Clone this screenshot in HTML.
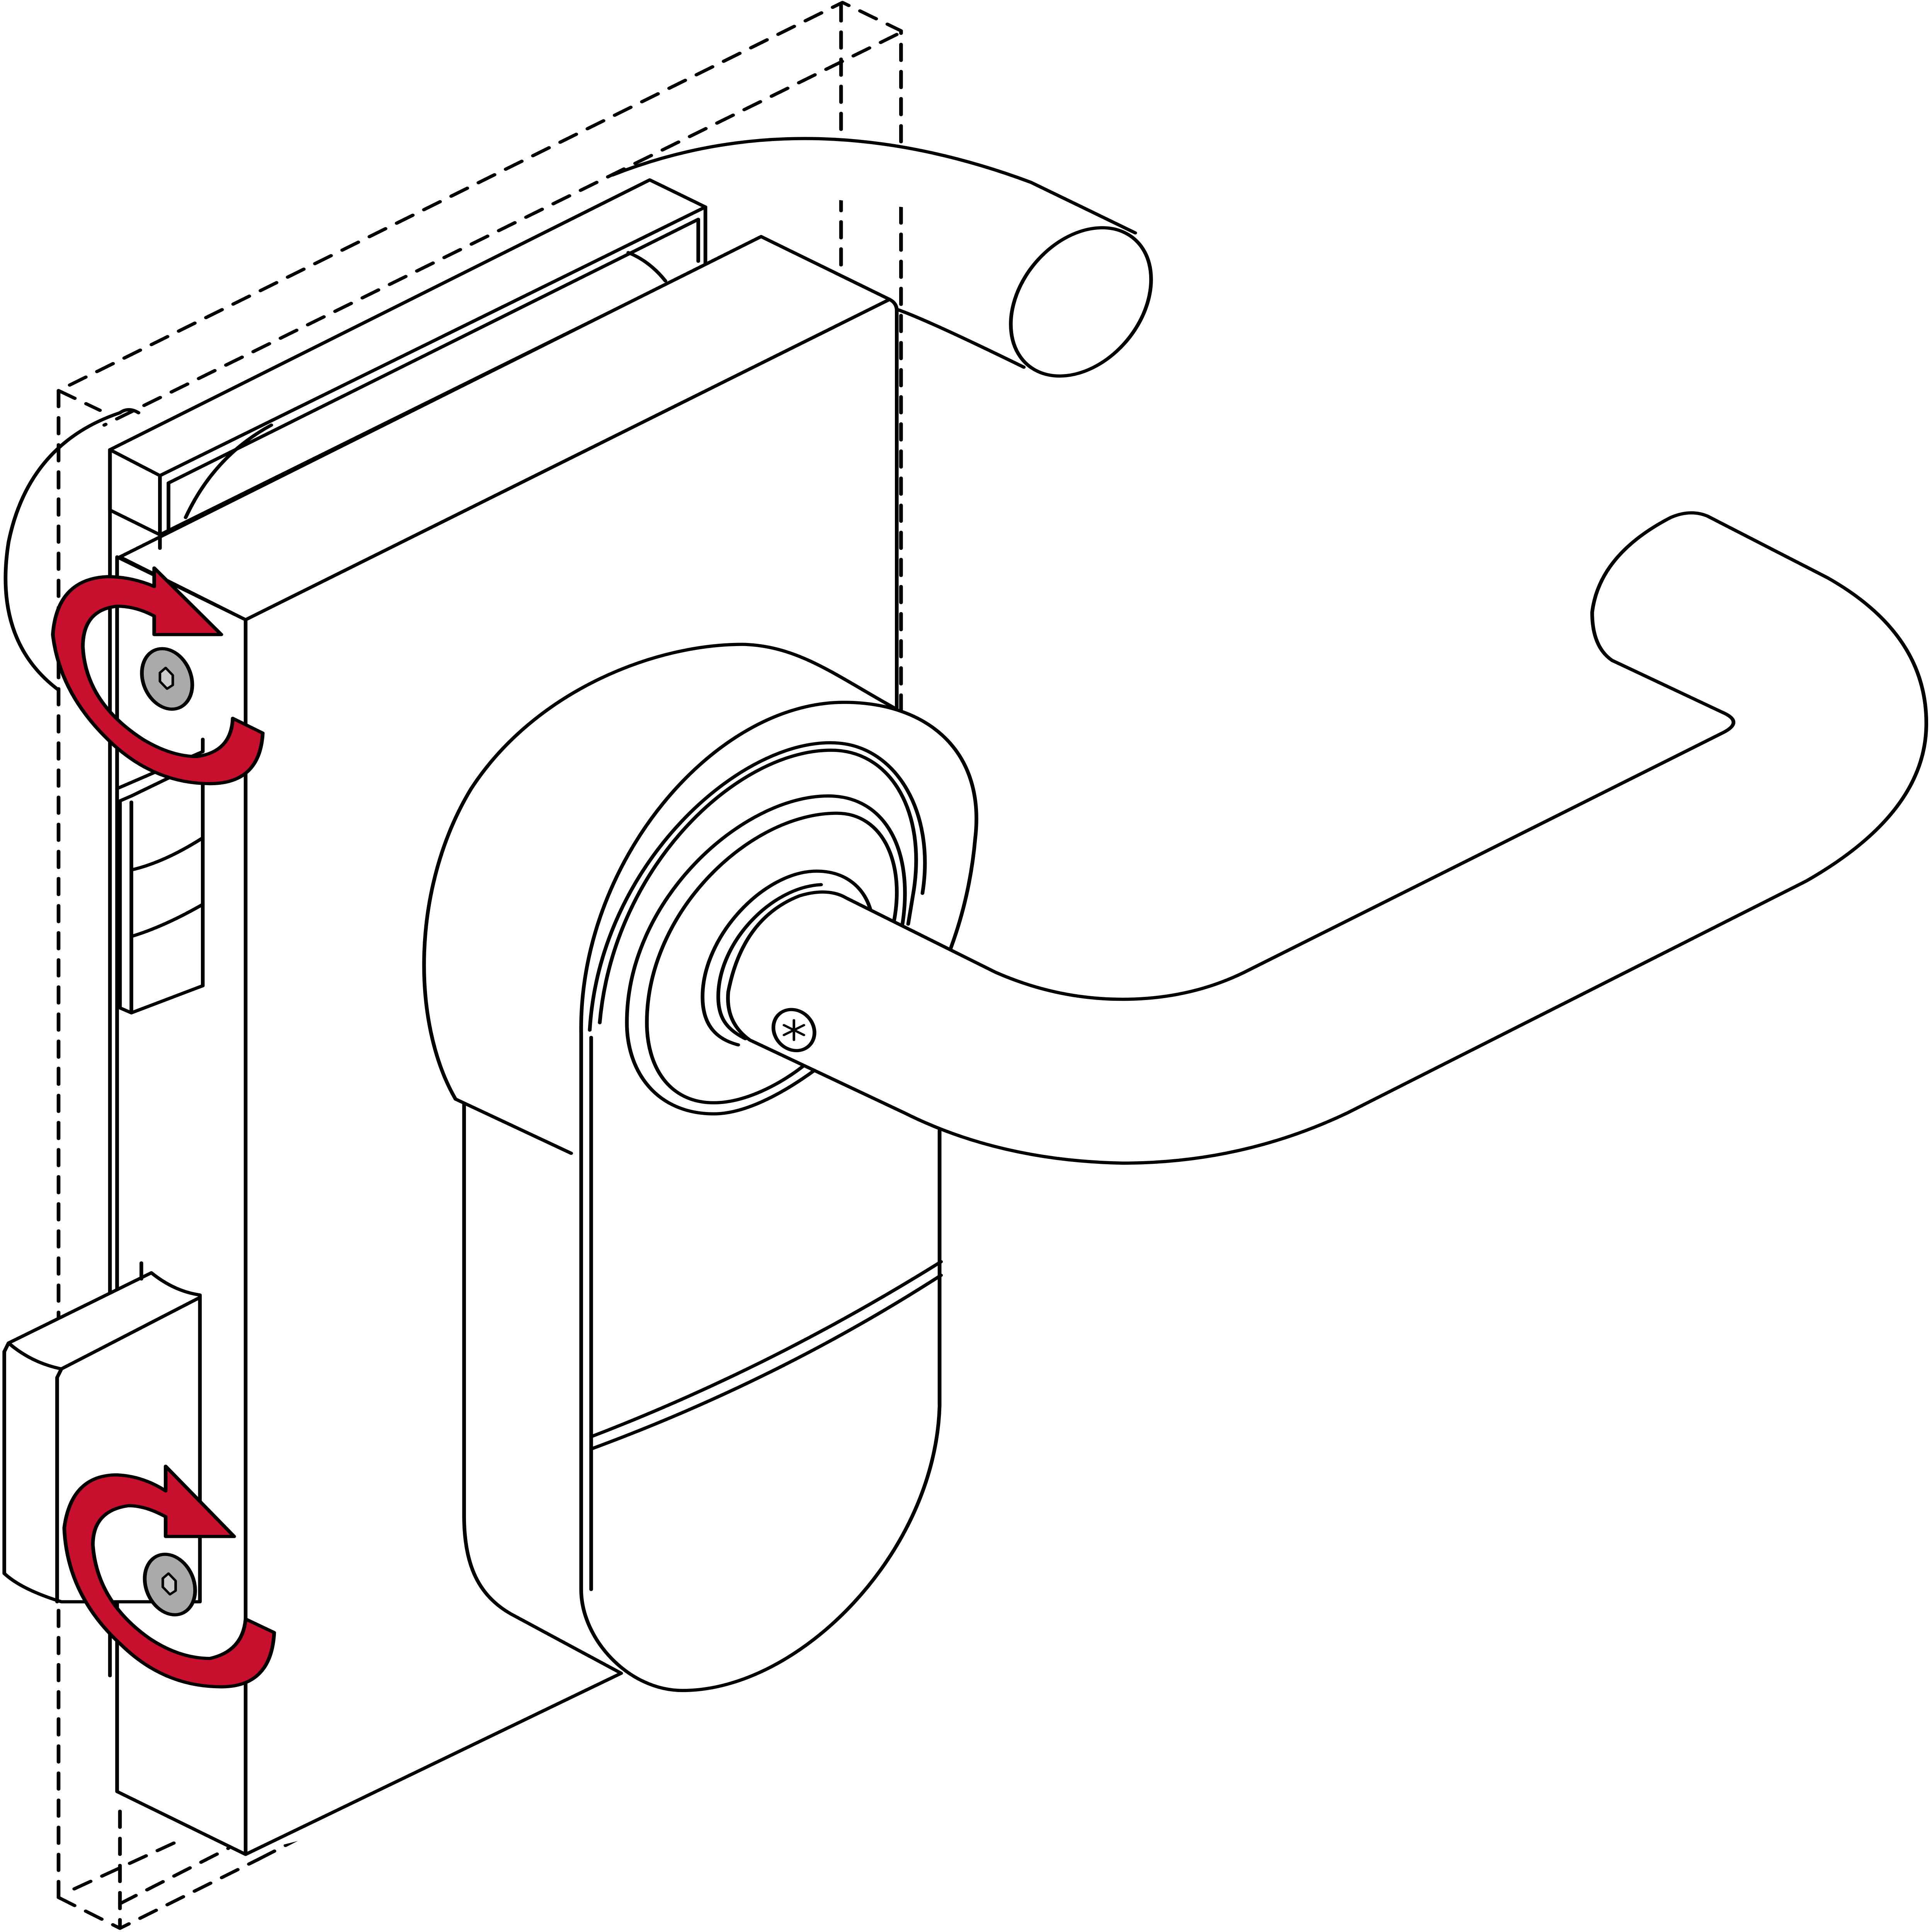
<!DOCTYPE html>
<html><head><meta charset="utf-8">
<style>
html,body{margin:0;padding:0;background:#fff;overflow:hidden;width:100%;height:100%;}
svg{display:block;width:100vw;height:100vh;}
</style></head>
<body>
<svg viewBox="0 0 1353 1568" preserveAspectRatio="none" xmlns="http://www.w3.org/2000/svg" fill="none" stroke="#000" stroke-width="2.6" stroke-linejoin="round" stroke-linecap="round">
<rect x="0" y="0" width="1353" height="1568" fill="#fff" stroke="none"/>
<!-- dashed glass -->
<g stroke-dasharray="13,9">
<path d="M41,1540 L41,317 L590,2 L631,25 L631,580"/>
<path d="M41,317 L70,333"/>
<path d="M628,28 L73,345"/>
<path d="M589,4 L589,222"/>
<path d="M84,1470 L84,1565"/>
<path d="M41,1540 L84,1565 L181,1509"/>
<path d="M52,1533 L127,1493"/>
<path d="M84,1545 L160,1500"/>
<path d="M181,1509 L435,1358"/>
</g>
<!-- back handle -->
<path d="M429,142 Q565,80 722,148 L795,189" fill="#fff"/>
<path d="M628,251 Q650,260 717,298"/>
<ellipse cx="757" cy="245" rx="44" ry="64" transform="rotate(28 757 245)" fill="#fff"/>
<!-- left strap arc -->
<path d="M84,335 Q20,360 6,440 Q-5,520 41,560"/>
<!-- top clamp -->
<path d="M77,365 L455,146 L494,168 L494,215 L112,434 L77,414 Z" fill="#fff"/>
<path d="M77,365 L112,386 L494,168 M112,386 L112,434"/>
<path d="M118,392 L489,178 L489,212"/>
<path d="M118,392 L118,430"/>
<path d="M130,420 Q150,370 190,345"/>
<path d="M440,205 Q455,212 466,228"/>
<path d="M84,335 Q90,330 97,335"/>
<!-- main box -->
<path d="M84,452 L533,192 L623,243 L172,503 Z" fill="#fff"/>
<path d="M172,503 L623,243 L628,575 L658,700 L658,1360 L172,1505 Z" fill="#fff" stroke="none"/>
<path d="M172,503 L623,243 Q628,246 628,252 L628,575"/>
<path d="M82,452 L172,503 L172,1505 L82,1454 Z" fill="#fff"/>
<path d="M77,365 L77,1360 M112,434 L112,445"/>
<path d="M172,1505 L435,1358"/>
<!-- left-side strips -->
<path d="M84,650 L92,646 L142,618 L142,800 L92,822 L84,818 Z" fill="#fff"/>
<path d="M92,651 L92,822 M92,706 Q115,700 142,680 M92,760 Q115,752 142,734"/>
<path d="M82,640 L142,610 L142,600"/>
<!-- bottom-left block -->
<path d="M6,1090 L106,1033 Q122,1048 140,1051 L140,1300 L43,1300 Q15,1290 3,1277 L3,1097 Z" fill="#fff"/>
<path d="M6,1090 Q22,1106 43,1111 L140,1053 M43,1111 L40,1118 L40,1300"/>
<path d="M99,1025 L99,1038"/>
<!-- back rosette -->
<path d="M319,892 C288,830 288,720 330,640 C375,560 460,522 522,523 C560,525 585,548 627,575 L683,670 L658,780 L658,1360 L435,1358 L358,1310 C330,1290 325,1260 325,1230 L325,896 Z" fill="#fff" stroke="none"/>
<path d="M319,892 C288,830 288,720 330,640 C375,560 460,522 522,523 C560,525 585,548 627,575"/>
<path d="M319,892 L400,936"/>
<path d="M325,896 L325,1230 C325,1270 335,1295 358,1310 L435,1358"/>
<!-- cylinder cover front -->
<path d="M407,1290 L407,839 C405,700 500,570 591,570 C650,570 690,610 683,680 C680,720 672,750 666,769 L658,790 L658,1141 C655,1260 560,1372 478,1372 C440,1372 407,1330 407,1290 Z" fill="#fff"/>
<path d="M414,842 L414,1290"/>
<path d="M414,1166 Q540,1110 659,1024 M414,1176 Q545,1120 659,1035"/>
<!-- rings -->
<path d="M420,830 C430,700 520,605 586,609 C625,612 648,660 640,722 L636,750" />
<path d="M413,836 C420,700 520,598 586,603 C628,606 655,660 646,725"/>
<path d="M570,869 C545,890 520,904 500,904 C460,904 439,870 439,830 C439,730 520,646 580,646 C620,646 640,690 632,750"/>
<path d="M566,862 C545,882 520,895 500,895 C468,895 453,865 453,830 C453,740 525,660 586,660 C618,660 634,700 626,748"/>
<path d="M517,848 C500,843 492,830 492,809 C492,760 535,707 572,707 C590,707 605,718 610,740"/>
<path d="M522,843 C508,835 503,825 503,809 C503,765 540,720 575,718"/>
<!-- lever -->
<path d="M593,729 L697,789 Q740,811 786,811 Q835,811 875,787 L1206,595 Q1222,586 1206,578 L1129,536 Q1115,525 1115,497 Q1120,450 1170,420 Q1184,413 1196,419 L1280,469 Q1350,515 1349,589 Q1348,660 1265,715 L944,903 Q870,944 786,944 Q700,942 633,903 L525,844 Q508,830 510,805 Q520,745 560,727 Q580,720 593,729 Z" fill="#fff"/>
<path d="M658,918 L658,1140"/>
<ellipse cx="556" cy="836" rx="14" ry="17" transform="rotate(-20 556 836)" fill="#fff"/>
<path d="M556,828 L556,844 M549,832 L563,840 M549,840 L563,832" stroke-width="1.8"/>
<!-- screws -->
<ellipse cx="117" cy="551" rx="17" ry="25" transform="rotate(-15 117 551)" fill="#aaa"/>
<path d="M112,546 L116,542 L121,548 L121,556 L117,559 L112,553 Z" fill="#ccc" stroke-width="1.8"/>
<ellipse cx="119" cy="1286" rx="17" ry="25" transform="rotate(-15 119 1286)" fill="#aaa"/>
<path d="M114,1281 L118,1277 L123,1283 L123,1291 L119,1294 L114,1288 Z" fill="#ccc" stroke-width="1.8"/>
<!-- red arrows -->
<path d="M108,461 L155,515 L108,515 L108,500 Q95,492 82,492 Q58,495 58,525 Q60,570 100,600 Q120,614 138,614 Q162,610 163,583 L184,595 Q182,636 147,636 Q110,636 80,605 Q42,565 37,515 Q40,470 75,468 Q92,468 108,476 Z" fill="#c8102e"/>
<path d="M116,1190 L164,1247 L116,1247 L116,1231 Q102,1222 90,1222 Q65,1226 65,1254 Q68,1300 105,1330 Q126,1346 147,1346 Q170,1340 172,1314 L192,1325 Q190,1369 155,1369 Q115,1369 85,1335 Q47,1295 45,1240 Q50,1197 82,1197 Q100,1198 116,1210 Z" fill="#c8102e"/>
</svg>
</body></html>
